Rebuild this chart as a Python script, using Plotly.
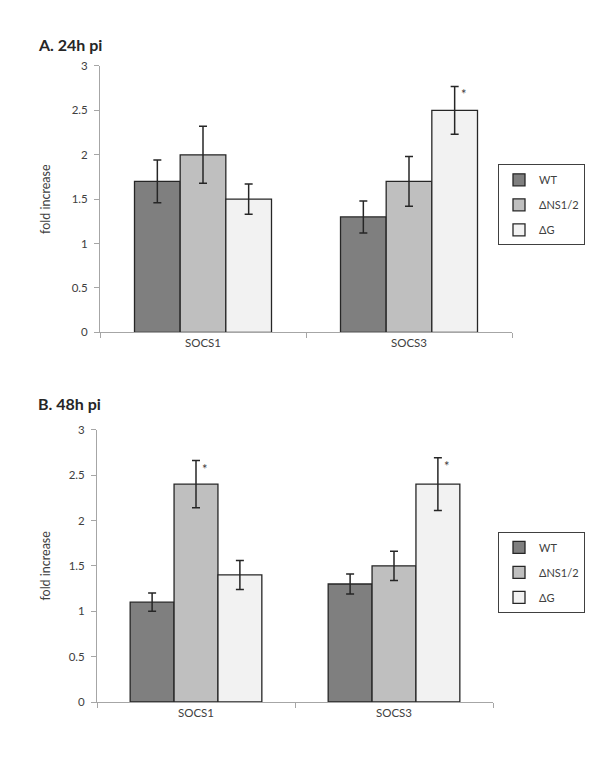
import plotly.graph_objects as go

categories = ["SOCS1", "SOCS3"]
series_names = ["WT", "ΔNS1/2", "ΔG"]
colors = ["#7f7f7f", "#bfbfbf", "#f2f2f2"]

# Panel A: 24h pi
a_values = {"WT": [1.7, 1.3], "ΔNS1/2": [2.0, 1.7], "ΔG": [1.5, 2.5]}
a_errors = {"WT": [0.24, 0.18], "ΔNS1/2": [0.32, 0.28], "ΔG": [0.17, 0.27]}
a_star = [("ΔG", "SOCS3")]

# Panel B: 48h pi
b_values = {"WT": [1.1, 1.3], "ΔNS1/2": [2.4, 1.5], "ΔG": [1.4, 2.4]}
b_errors = {"WT": [0.1, 0.11], "ΔNS1/2": [0.26, 0.16], "ΔG": [0.16, 0.29]}
b_star = [("ΔNS1/2", "SOCS1"), ("ΔG", "SOCS3")]

y_ticks = [0, 0.5, 1, 1.5, 2, 2.5, 3]
y_tick_text = ["0", "0.5", "1", "1.5", "2", "2.5", "3"]

W, H = 600, 767
FONT = "Lato"
TXT = "#404040"
AX = "#a6a6a6"
BARGAP = 0.335

fig = go.Figure()

panels = [
    ("x", "y", "legend", a_values, a_errors, a_star),
    ("x2", "y2", "legend2", b_values, b_errors, b_star),
]
for xa, ya, lg, vals, errs, stars in panels:
    for i, name in enumerate(series_names):
        fig.add_trace(go.Bar(
            x=categories, y=vals[name], name=name,
            xaxis=xa, yaxis=ya, legend=lg, legendgroup=lg + name,
            marker=dict(color=colors[i], line=dict(color="#262626", width=1.3)),
            error_y=dict(type="data", array=errs[name], visible=True,
                         color="#262626", thickness=1.5, width=4),
        ))
    bw = (1 - BARGAP) / len(series_names)
    for sname, cat in stars:
        si = series_names.index(sname)
        ci = categories.index(cat)
        top = vals[sname][ci] + errs[sname][ci]
        fig.add_annotation(
            x=ci + (si - 1) * bw, y=top, xref=xa, yref=ya,
            text="*", showarrow=False, xshift=9, yshift=-8,
            font=dict(family=FONT, size=13, color=TXT),
        )

axis_common = dict(showline=True, linecolor=AX, linewidth=1, ticks="outside",
                   tickcolor=AX, ticklen=5, showgrid=False, zeroline=False,
                   tickfont=dict(family=FONT, size=11.5, color=TXT))

ytitle_font = dict(family=FONT, size=12.5, color=TXT)

fig.update_layout(
    width=W, height=H,
    margin=dict(l=0, r=0, t=0, b=0),
    paper_bgcolor="white", plot_bgcolor="white",
    barmode="group", bargap=BARGAP, bargroupgap=0,
    font=dict(family=FONT, color=TXT),
    xaxis=dict(domain=[100 / W, 512 / W], anchor="y", tickson="boundaries",
               range=[-0.5, 1.5], **axis_common),
    yaxis=dict(domain=[1 - 331 / H, 1 - 60 / H], anchor="x", range=[0, 3],
               tickvals=y_ticks, ticktext=y_tick_text, ticklabelstandoff=4,
               title=dict(text="fold increase", font=ytitle_font, standoff=18),
               **axis_common),
    xaxis2=dict(domain=[97 / W, 493 / W], anchor="y2", tickson="boundaries",
                range=[-0.5, 1.5], **axis_common),
    yaxis2=dict(domain=[1 - 707 / H, 1 - 430 / H], anchor="x2", range=[0, 3],
                tickvals=y_ticks, ticktext=y_tick_text, ticklabelstandoff=4,
                title=dict(text="fold increase", font=ytitle_font, standoff=15),
                **axis_common),
    legend=dict(x=498 / W, y=1 - 160 / H, xanchor="left", yanchor="top",
                bordercolor="#404040", borderwidth=1, tracegroupgap=6, itemwidth=30,
                font=dict(family=FONT, size=11, color=TXT), bgcolor="white"),
    legend2=dict(x=498 / W, y=1 - 534 / H, xanchor="left", yanchor="top",
                 bordercolor="#404040", borderwidth=1, tracegroupgap=6, itemwidth=30,
                 font=dict(family=FONT, size=11, color=TXT), bgcolor="white"),
    showlegend=True,
)

fig.add_annotation(x=36 / W, y=1 - 38 / H, xref="paper", yref="paper",
                   text="<b>A. 24h pi</b>", showarrow=False, xanchor="left", yanchor="middle",
                   font=dict(family=FONT, size=16, color="#262626"))
fig.add_annotation(x=36 / W, y=1 - 403 / H, xref="paper", yref="paper",
                   text="<b>B. 48h pi</b>", showarrow=False, xanchor="left", yanchor="middle",
                   font=dict(family=FONT, size=16, color="#262626"))

fig.write_html("out.html", config={"displayModeBar": False},
               post_script="document.body.style.margin='0';")
